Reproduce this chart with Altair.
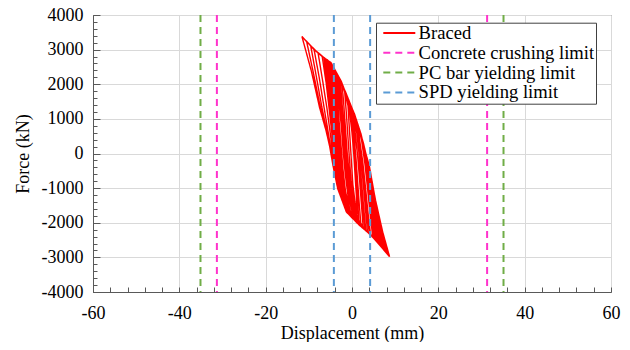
import altair as alt
import pandas as pd

# ---------------- data ----------------
X_MAJOR = [-60, -40, -20, 0, 20, 40, 60]
X_MINOR = list(range(-60, 61, 4))
Y_MAJOR = [-4000, -3000, -2000, -1000, 0, 1000, 2000, 3000, 4000]
Y_MINOR = list(range(-4000, 4001, 200))

SERIES = ["Braced", "Concrete crushing limit", "PC bar yielding limit", "SPD yielding limit"]
COLORS = ["#ff0000", "#ff33cc", "#70ad47", "#5b9bd5"]
DASHES = [[1, 0], [7, 5], [7, 5], [7, 5]]

LIMIT_NAMES = ["Concrete crushing limit", "PC bar yielding limit", "SPD yielding limit"]
LIMIT_VALUES = [31.3, 35.1, 4.2]

# hysteresis cycles (displacement mm, force kN)
S1 = [(-1.0, 1550), (-0.7, 900), (-0.4, 300), (-0.1, -300), (0.2, -900), (0.7, -1400), (1.2, -1750),
      (1.0, -1200), (0.7, -600), (0.4, 0), (0.0, 600), (-0.5, 1150)]
S2 = [(-1.7, 1800), (-1.3, 1150), (-0.95, 500), (-0.6, -150), (-0.2, -800), (0.4, -1400), (1.1, -1750),
      (1.6, -1950), (1.3, -1350), (0.95, -650), (0.6, 0), (0.1, 650), (-0.6, 1250), (-1.3, 1650)]
C01 = [(-2.3, 2000), (-1.9, 1400), (-1.5, 700), (-1.1, 0), (-0.7, -700), (-0.1, -1300), (0.8, -1800),
       (2.1, -2100), (1.7, -1500), (1.3, -800), (0.9, -100), (0.4, 600), (-0.3, 1200), (-1.35, 1700)]
C02 = [(-2.7, 2100), (-2.3, 1450), (-1.85, 720), (-1.4, 20), (-0.95, -680), (-0.3, -1300), (0.7, -1800),
       (1.6, -2000), (2.6, -2150), (2.2, -1500), (1.75, -750), (1.3, -50), (0.7, 650), (-0.2, 1250),
       (-1.35, 1700), (-2.25, 1980)]
E1 = [(-3.0, 2170), (-2.4, 1500), (-1.8, 800), (-1.2, 100), (-0.6, -600), (0.1, -1300), (1.3, -1880),
      (3.0, -2180), (2.5, -1550), (2.0, -850), (1.4, -150), (0.7, 550), (-0.2, 1150), (-1.4, 1700),
      (-2.4, 2040)]
C03 = [(-3.1, 2200), (-2.6, 1500), (-2.1, 750), (-1.7, 50), (-1.2, -650), (-0.5, -1300), (0.6, -1800),
       (1.9, -2050), (3.2, -2200), (2.7, -1550), (2.2, -800), (1.7, -100), (1.1, 600), (0.1, 1250),
       (-1.5, 1750), (-2.45, 2050)]
S3 = [(-3.3, 2250), (-2.8, 1550), (-2.3, 800), (-1.9, 100), (-1.4, -600), (-0.7, -1280), (0.5, -1800),
      (2.0, -2080), (3.6, -2260), (3.1, -1600), (2.6, -850), (2.0, -120), (1.35, 580), (0.2, 1180),
      (-1.45, 1720), (-2.6, 2060)]
C04 = [(-3.5, 2300), (-3.0, 1600), (-2.5, 850), (-2.1, 150), (-1.6, -550), (-0.9, -1250), (0.3, -1800),
       (1.9, -2080), (4.0, -2300), (3.4, -1650), (2.9, -900), (2.3, -150), (1.6, 550), (0.2, 1200),
       (-1.4, 1700), (-2.7, 2100), (-3.3, 2250)]
E2 = [(-3.8, 2370), (-3.2, 1700), (-2.6, 950), (-2.05, 250), (-1.5, -450), (-0.8, -1150), (0.4, -1750),
      (2.0, -2090), (4.3, -2340), (3.7, -1700), (3.1, -950), (2.5, -250), (1.7, 450), (0.5, 1050),
      (-1.0, 1550), (-2.5, 2050)]
C05 = [(-3.95, 2400), (-3.45, 1700), (-3.0, 950), (-2.55, 250), (-2.1, -450), (-1.5, -1100), (-0.4, -1650),
       (1.2, -1950), (3.0, -2200), (4.8, -2400), (4.2, -1750), (3.6, -1000), (3.0, -300), (2.2, 400),
       (0.85, 1000), (-0.75, 1500), (-2.15, 1950), (-3.3, 2250)]
S4 = [(-4.05, 2420), (-3.55, 1720), (-3.1, 960), (-2.65, 260), (-2.2, -430), (-1.6, -1090), (-0.55, -1630),
      (1.1, -1940), (3.2, -2220), (5.0, -2430), (4.35, -1760), (3.75, -1010), (3.1, -290), (2.25, 400),
      (0.9, 980), (-0.75, 1520), (-2.2, 1970), (-3.4, 2280)]
C06 = [(-4.2, 2450), (-3.7, 1750), (-3.25, 980), (-2.8, 280), (-2.3, -420), (-1.7, -1080), (-0.7, -1620),
       (1.0, -1930), (3.3, -2230), (5.2, -2460), (4.5, -1780), (3.9, -1030), (3.2, -280), (2.3, 400),
       (0.95, 960), (-0.75, 1500), (-2.3, 2000), (-3.5, 2300)]
C07 = [(-4.4, 2500), (-3.9, 1800), (-3.4, 1000), (-2.95, 300), (-2.5, -400), (-1.9, -1050), (-0.9, -1600),
       (0.9, -1920), (3.5, -2250), (5.5, -2500), (4.8, -1800), (4.2, -1050), (3.4, -300), (2.3, 400),
       (1.0, 950), (-0.7, 1500), (-2.3, 2000), (-3.7, 2350)]
S5 = [(-4.5, 2520), (-3.95, 1820), (-3.45, 1020), (-3.0, 290), (-2.55, -410), (-1.95, -1030), (-0.95, -1580),
      (0.85, -1910), (3.4, -2240), (5.7, -2530), (4.95, -1830), (4.3, -1050), (3.5, -320), (2.35, 380),
      (1.05, 930), (-0.6, 1470), (-2.3, 2010), (-3.85, 2380)]
C08 = [(-4.6, 2550), (-4.05, 1850), (-3.55, 1050), (-3.1, 300), (-2.65, -400), (-2.0, -1000), (-1.0, -1550),
       (0.8, -1900), (3.3, -2230), (5.0, -2420), (5.9, -2560), (5.1, -1850), (4.4, -1050), (3.6, -350),
       (2.4, 350), (1.1, 900), (-0.55, 1450), (-2.3, 2000), (-3.95, 2400)]
C09 = [(-4.7, 2570), (-4.2, 1880), (-3.7, 1080), (-3.2, 330), (-2.75, -380), (-2.1, -1000), (-1.1, -1560),
       (0.7, -1900), (3.25, -2230), (5.0, -2440), (6.1, -2590), (5.3, -1900), (4.6, -1100), (3.7, -350),
       (2.45, 350), (1.25, 850), (-0.2, 1350), (-2.0, 1900), (-3.75, 2350)]
C10 = [(-4.85, 2600), (-4.3, 1900), (-3.8, 1100), (-3.3, 350), (-2.85, -350), (-2.2, -1000), (-1.2, -1550),
       (0.6, -1900), (3.3, -2230), (5.0, -2430), (6.2, -2600), (5.4, -1900), (4.7, -1100), (3.8, -350),
       (2.5, 350), (1.3, 850), (-0.2, 1350), (-2.0, 1900), (-3.75, 2350), (-4.55, 2530)]
S6 = [(-5.0, 2620), (-4.45, 1920), (-3.95, 1120), (-3.45, 370), (-2.95, -330), (-2.3, -980), (-1.3, -1530),
      (0.45, -1890), (3.2, -2220), (5.2, -2460), (6.4, -2630), (5.6, -1920), (4.85, -1120), (3.9, -380),
      (2.65, 300), (1.5, 760), (0.0, 1300), (-1.8, 1850), (-3.6, 2330)]
C11 = [(-5.3, 2650), (-4.7, 1950), (-4.15, 1150), (-3.65, 400), (-3.15, -300), (-2.5, -950), (-1.5, -1500),
       (0.3, -1880), (3.1, -2210), (5.35, -2480), (6.55, -2650), (5.8, -1950), (5.0, -1150), (4.0, -400),
       (2.8, 150), (1.75, 650), (0.25, 1200), (-1.5, 1750), (-3.45, 2280), (-4.9, 2600)]
C12 = [(-5.5, 2680), (-4.95, 2000), (-4.4, 1200), (-3.9, 450), (-3.4, -250), (-2.75, -900), (-1.7, -1480),
       (0.1, -1860), (2.9, -2190), (5.1, -2450), (6.7, -2680), (5.9, -2000), (5.1, -1200), (4.05, -450),
       (2.85, 150), (1.75, 650), (0.2, 1200), (-1.6, 1780), (-3.3, 2250), (-4.8, 2600)]
S7 = [(-5.7, 2690), (-5.1, 1980), (-4.5, 1180), (-4.0, 430), (-3.5, -270), (-2.8, -920), (-1.75, -1470),
      (0.15, -1850), (2.85, -2180), (5.1, -2445), (6.8, -2690), (5.95, -2000), (5.1, -1210), (4.05, -440),
      (2.8, 160), (1.8, 640), (0.25, 1210), (-1.65, 1790), (-3.35, 2270), (-4.9, 2630)]
C13 = [(-5.85, 2700), (-5.2, 2000), (-4.6, 1200), (-4.1, 450), (-3.6, -250), (-2.9, -900), (-1.8, -1450),
       (0.2, -1850), (2.8, -2170), (5.1, -2440), (6.9, -2700), (6.0, -2000), (5.1, -1200), (4.1, -450),
       (2.85, 150), (1.85, 650), (0.3, 1200), (-1.6, 1780), (-3.3, 2250), (-4.7, 2570)]
C14 = [(-6.2, 2730), (-5.5, 2020), (-4.85, 1200), (-4.3, 450), (-3.8, -250), (-3.1, -850), (-2.0, -1400),
       (-0.1, -1820), (2.7, -2160), (5.25, -2460), (7.1, -2730), (6.2, -2050), (5.2, -1250), (4.15, -500),
       (3.0, 100), (1.95, 600), (0.35, 1200), (-1.5, 1780), (-3.35, 2260), (-4.8, 2610), (-5.6, 2690)]
S8 = [(-6.5, 2765), (-5.75, 2030), (-5.05, 1220), (-4.45, 470), (-3.95, -200), (-3.2, -800), (-2.15, -1350),
      (-0.3, -1790), (2.6, -2150), (5.3, -2465), (7.25, -2750), (6.3, -2080), (5.25, -1270), (4.15, -510),
      (3.0, 90), (1.95, 590), (0.35, 1190), (-1.5, 1770), (-3.35, 2260), (-4.85, 2615), (-5.9, 2705)]
O1 = [(-6.9, 2800), (-6.0, 2050), (-5.25, 1250), (-4.6, 500), (-4.05, -150), (-3.35, -750), (-2.3, -1300),
      (-0.45, -1770), (2.5, -2140), (5.3, -2470), (7.4, -2770), (6.4, -2100), (5.3, -1280), (4.2, -520),
      (3.05, 80), (2.0, 580), (0.4, 1180), (-1.5, 1760), (-3.3, 2250), (-4.85, 2610), (-6.1, 2720)]
O2 = [(-7.85, 2900), (-6.8, 2100), (-5.8, 1300), (-5.0, 550), (-4.35, -100), (-3.6, -700), (-2.5, -1250),
      (-0.9, -1720), (2.3, -2110), (5.4, -2480), (7.8, -2830), (6.65, -2140), (5.35, -1290), (4.2, -510),
      (3.0, 70), (2.05, 570), (0.45, 1170), (-1.5, 1770), (-3.3, 2260), (-4.9, 2620), (-6.5, 2770)]
O3 = [(-8.8, 3010), (-7.6, 2200), (-6.5, 1350), (-5.5, 600), (-4.65, -50), (-3.85, -650), (-2.6, -1230),
      (-1.0, -1700), (2.1, -2090), (5.4, -2480), (8.1, -2880), (7.0, -2230), (5.4, -1330), (4.25, -520),
      (3.05, 60), (2.05, 560), (0.5, 1150), (-1.5, 1760), (-3.3, 2260), (-4.9, 2620), (-6.6, 2780),
      (-8.1, 2930)]
O4 = [(-9.55, 3100), (-8.3, 2250), (-7.0, 1350), (-5.8, 620), (-4.8, 0), (-3.95, -600), (-2.8, -1150),
      (-1.2, -1680), (1.9, -2070), (5.0, -2420), (8.35, -2920), (7.1, -2260), (5.45, -1350), (4.25, -540),
      (3.1, 40), (2.1, 550), (0.55, 1140), (-1.5, 1750), (-3.3, 2260), (-5.05, 2630), (-6.7, 2790),
      (-8.3, 2960)]
O5 = [(-10.5, 3230), (-8.9, 2300), (-7.3, 1320), (-5.9, 620), (-4.95, 100), (-4.1, -500), (-3.0, -1080),
      (-1.3, -1660), (1.8, -2060), (4.6, -2380), (8.5, -2950), (7.0, -2240), (5.15, -1200), (3.95, -350),
      (2.65, 220), (2.05, 555), (0.55, 1130), (-1.05, 1605), (-2.55, 2085), (-4.85, 2610), (-6.45, 2755),
      (-8.75, 2995)]
O6 = [(-11.6, 3380), (-9.4, 2374), (-7.5, 1322), (-6.0, 654), (-5.2, 224), (-4.4, -350), (-3.3, -1018),
      (-1.3, -1689), (1.7, -2070), (4.4, -2357), (8.7, -2978), (7.1, -2262), (5.2, -1210), (4.0, -350),
      (2.7, 224), (2.1, 559), (0.6, 1132), (-1.0, 1608), (-2.5, 2087), (-4.8, 2612), (-6.4, 2760),
      (-8.7, 3000), (-11.6, 3380)]

CYCLES = [S1, S2, C01, C02, E1, C03, S3, C04, E2, C05, S4, C06, C07, S5, C08, C09, C10, S6,
          C11, C12, S7, C13, C14, S8, O1, O2, O3, O4, O5, O6]

# ---------------- tables ----------------
rows = []
k = 0
for cyc in CYCLES:
    for d, f in cyc:
        rows.append({"disp": d, "force": f, "idx": k, "series": "Braced"})
        k += 1
line_df = pd.DataFrame(rows)

lim_rows = []
for name, v in zip(LIMIT_NAMES, LIMIT_VALUES):
    lim_rows.append({"pos": -v, "series": name})
    lim_rows.append({"pos": v, "series": name})
lim_df = pd.DataFrame(lim_rows)

FONT = "Liberation Serif"
AX = "#595959"

xs = alt.Scale(domain=[-60, 60], nice=False, zero=False)
ys = alt.Scale(domain=[-4000, 4000], nice=False, zero=False)
cs = alt.Scale(domain=SERIES, range=COLORS)
ds = alt.Scale(domain=SERIES, range=DASHES)

legend = alt.Legend(
    title=None, orient="none", legendX=283, legendY=7.7,
    symbolType="M-3.2,0H3.2", symbolSize=100, symbolOffset=13, symbolStrokeWidth=2,
    labelOffset=10, labelFont=FONT, labelFontSize=18.6, labelColor="black", labelLimit=0,
    clipHeight=18.6, padding=1, rowPadding=0.8, strokeColor="#404040", fillColor="white",
)

x_main = alt.Axis(
    values=X_MAJOR, grid=True, gridColor="#d9d9d9", ticks=False, domain=True, domainColor=AX,
    format="d", labelFlush=False, labelOverlap=False, labelPadding=12,
    labelFont=FONT, labelFontSize=18, labelColor="black",
    title="Displacement (mm)", titleFont=FONT, titleFontSize=18, titleFontWeight="normal",
    titleColor="black", titleY=46, titleBaseline="alphabetic", orient="bottom",
)
y_main = alt.Axis(
    values=Y_MAJOR, grid=True, gridColor="#d9d9d9", ticks=False, domain=True, domainColor=AX,
    format="d", labelOverlap=False, labelPadding=10,
    labelFont=FONT, labelFontSize=18, labelColor="black",
    title="Force (kN)", titleFont=FONT, titleFontSize=18, titleFontWeight="normal",
    titleColor="black", titleX=-65, titleY=138.5, titleAngle=270, titleBaseline="alphabetic",
    orient="left",
)

lines = alt.Chart(line_df).mark_line(strokeWidth=1.4, clip=True).encode(
    x=alt.X("disp:Q", scale=xs, axis=x_main),
    y=alt.Y("force:Q", scale=ys, axis=y_main),
    order=alt.Order("idx:Q"),
    color=alt.Color("series:N", scale=cs, legend=legend),
    strokeDash=alt.StrokeDash("series:N", scale=ds, legend=legend),
)

rules = alt.Chart(lim_df).mark_rule(strokeWidth=2).encode(
    x=alt.X("pos:Q", scale=xs, axis=None),
    color=alt.Color("series:N", scale=cs, legend=legend),
    strokeDash=alt.StrokeDash("series:N", scale=ds, legend=legend),
)

minor = alt.Chart(line_df).mark_point(size=0, opacity=0).encode(
    x=alt.X("disp:Q", scale=xs, axis=alt.Axis(
        values=X_MINOR, labels=False, grid=False, domain=False, ticks=True, tickSize=5,
        tickColor=AX, offset=-5, orient="bottom", title=None)),
    y=alt.Y("force:Q", scale=ys, axis=alt.Axis(
        values=Y_MINOR, labels=False, grid=False, domain=False, ticks=True, tickSize=4,
        tickColor=AX, offset=-4, orient="left", title=None)),
)

major = alt.Chart(line_df).mark_point(size=0, opacity=0).encode(
    x=alt.X("disp:Q", scale=xs, axis=None),
    y=alt.Y("force:Q", scale=ys, axis=alt.Axis(
        values=Y_MAJOR, labels=False, grid=False, domain=False, ticks=True, tickSize=7,
        tickColor=AX, offset=-7, orient="left", title=None)),
)

chart = (
    alt.layer(lines, rules, minor, major)
    .resolve_axis(x="independent", y="independent")
    .properties(
        width=518, height=277,
        padding={"left": 85, "top": 7, "right": 11, "bottom": 50},
        autosize=alt.AutoSizeParams(type="none"),
    )
    .configure(font=FONT)
    .configure_view(stroke=AX, strokeWidth=1)
)

chart.save(
    "out.html",
    embed_options={
        "renderer": "svg",
        "actions": False,
        "formatLocale": {"decimal": ".", "thousands": "", "grouping": [3],
                         "currency": ["", ""], "minus": "-"},
    },
)
